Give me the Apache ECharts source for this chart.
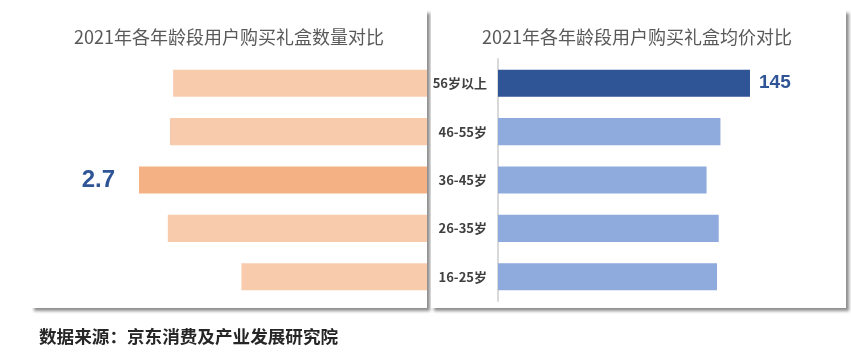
<!DOCTYPE html>
<html>
<head>
<meta charset="utf-8">
<script src="https://cdn.jsdelivr.net/npm/echarts@6/dist/echarts.min.js"></script>
<style>
html,body{margin:0;padding:0;background:#fff;}
#chart{width:851px;height:364px;}
</style>
</head>
<body>
<div id="chart"></div>
<script>
const categories = ['56岁以上', '46-55岁', '36-45岁', '26-35岁', '16-25岁'];
const countValues = [2.38, 2.41, 2.7, 2.43, 1.74];
const priceValues = [145, 128, 120, 127, 126];
const titleLeft = '2021年各年龄段用户购买礼盒数量对比';
const titleRight = '2021年各年龄段用户购买礼盒均价对比';
const sourceText = '数据来源：京东消费及产业发展研究院';

const FONT = '"Noto Sans CJK SC", "Noto Sans", sans-serif';
const leftHi = countValues.indexOf(Math.max(...countValues));
const rightHi = priceValues.indexOf(Math.max(...priceValues));

const leftData = countValues.map((v, i) => ({
  value: v,
  itemStyle: { color: i === leftHi ? '#F4B183' : '#F8CBAD' },
  label: {
    show: i === leftHi, position: 'left', distance: 24,
    color: '#2F5597', fontSize: 24, fontWeight: 'bold',
    fontFamily: 'Liberation Sans, Arial, sans-serif'
  }
}));
const rightData = priceValues.map((v, i) => ({
  value: v,
  itemStyle: { color: i === rightHi ? '#2F5597' : '#8FAADC' },
  label: {
    show: i === rightHi, position: 'right', distance: 9,
    color: '#2F5597', fontSize: 19, fontWeight: 'bold',
    fontFamily: 'Liberation Sans, Arial, sans-serif'
  }
}));

const chart = echarts.init(document.getElementById('chart'), null, { renderer: 'canvas' });
chart.setOption({
  animation: false,
  backgroundColor: '#fff',
  graphic: [
    { type: 'rect', z: -10, shape: { x: 31, y: 10, width: 396, height: 298 },
      style: { fill: '#fff', shadowBlur: 3, shadowOffsetX: 3, shadowOffsetY: 3, shadowColor: 'rgba(0,0,0,0.45)' } },
    { type: 'rect', z: -10, shape: { x: 431, y: 10, width: 415, height: 298 },
      style: { fill: '#fff', shadowBlur: 3, shadowOffsetX: 3, shadowOffsetY: 3, shadowColor: 'rgba(0,0,0,0.45)' } },
    { type: 'text', x: 229, y: 37, style: { text: titleLeft, fill: '#595959', font: '18px ' + FONT, align: 'center', verticalAlign: 'middle' } },
    { type: 'text', x: 637, y: 37, style: { text: titleRight, fill: '#595959', font: '18px ' + FONT, align: 'center', verticalAlign: 'middle' } },
    { type: 'text', x: 39, y: 336, style: { text: sourceText, fill: '#262626', font: 'bold 17.6px ' + FONT, align: 'left', verticalAlign: 'middle' } }
  ],
  grid: [
    { left: 139, width: 288, top: 59, height: 242 },
    { left: 498, width: 252, top: 59, height: 242 }
  ],
  xAxis: [
    { gridIndex: 0, type: 'value', min: 0, max: 2.7, inverse: true, show: false },
    { gridIndex: 1, type: 'value', min: 0, max: 145, show: false }
  ],
  yAxis: [
    { gridIndex: 0, type: 'category', data: categories, inverse: true, show: false },
    { gridIndex: 1, type: 'category', data: categories, inverse: true,
      axisLine: { show: true, lineStyle: { color: '#D9D9D9', width: 2 } },
      axisTick: { show: false },
      axisLabel: { margin: 11, color: '#404040', fontSize: 13, fontWeight: 'bold', fontFamily: FONT } }
  ],
  series: [
    { type: 'bar', xAxisIndex: 0, yAxisIndex: 0, data: leftData, barCategoryGap: '44%' },
    { type: 'bar', xAxisIndex: 1, yAxisIndex: 1, data: rightData, barCategoryGap: '44%' }
  ]
});
</script>
</body>
</html>
